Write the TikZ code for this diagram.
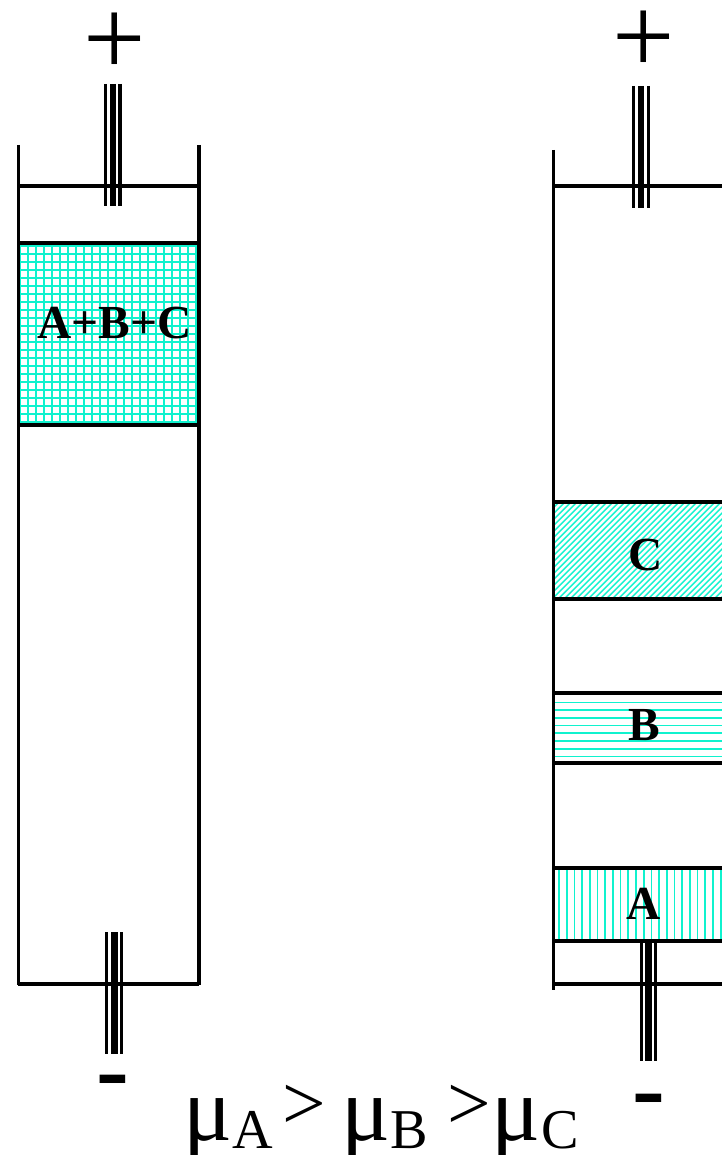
\documentclass[tikz,border=0pt]{standalone}
\usepackage{fontspec}
\setmainfont{Liberation Serif}
\usepackage{xcolor}
\definecolor{bandcol}{HTML}{10F2CE}
\tikzset{
  wall/.style={line width=1.85pt, line cap=butt},
  hatchline/.style={bandcol, line width=0.95pt},
  rodthin/.style={line width=1.9pt},
  rodthick/.style={line width=3.6pt},
  bandlabel/.style={font=\fontsize{27}{27}\selectfont\bfseries, inner sep=0pt, anchor=base},
  signlabel/.style={inner sep=0pt, anchor=base},
  mobility/.style={inner sep=0pt, anchor=base west}
}
\begin{document}
\begin{tikzpicture}[x=0.02cm, y=-0.02cm]
\useasboundingbox (0,0) rectangle (722,1155);
\begin{scope}
\clip (18,243) rectangle (199,425);
\draw[hatchline] foreach \x in {20,28,...,200} {(\x,243) -- (\x,425)};
\draw[hatchline] foreach \y in {246,254,...,425} {(18,\y) -- (199,\y)};
\end{scope}
\begin{scope}
\clip (553,502) rectangle (722,599);
\draw[hatchline, line width=0.8pt] foreach \x in {456,462,...,730} {(\x,599) -- ++(97,-97)};
\end{scope}
\begin{scope}
\clip (553,693) rectangle (722,763);
\draw[hatchline] foreach \y in {702.5,710.2,...,763} {(553,\y) -- (722,\y)};
\end{scope}
\begin{scope}
\clip (553,868) rectangle (722,941);
\draw[hatchline] foreach \x in {559,566.7,...,722} {(\x,868) -- (\x,941)};
\end{scope}
\draw[wall] (18.5,145) -- (18.5,985); \draw[wall] (199,145) -- (199,985);
\draw[wall] (18,186) -- (199,186); \draw[wall] (18,243) -- (199,243);
\draw[wall] (18,425) -- (199,425); \draw[wall] (18,984) -- (199,984);
\draw[wall] (553.5,150) -- (553.5,990); \draw[wall] (553,186) -- (722,186);
\draw[wall] (553,502) -- (722,502); \draw[wall] (553,599) -- (722,599);
\draw[wall] (553,693) -- (722,693); \draw[wall] (553,763) -- (722,763);
\draw[wall] (553,868) -- (722,868); \draw[wall] (553,941) -- (722,941);
\draw[wall] (553,984) -- (722,984);
\draw[rodthin] (105.5,84) -- (105.5,206); \draw[rodthick] (113,84) -- (113,206); \draw[rodthin] (120,84) -- (120,206);
\draw[rodthin] (106.5,932) -- (106.5,1054); \draw[rodthick] (114.5,932) -- (114.5,1054); \draw[rodthin] (121.5,932) -- (121.5,1054);
\draw[rodthin] (633.5,86) -- (633.5,208); \draw[rodthick] (641,86) -- (641,208); \draw[rodthin] (648.5,86) -- (648.5,208);
\draw[rodthin] (641.5,939) -- (641.5,1061); \draw[rodthick] (648.5,939) -- (648.5,1061); \draw[rodthin] (655.5,939) -- (655.5,1061);
\node[bandlabel] (ABC) at (114.5,338) {A+B+C};
\node[bandlabel] (C) at (646,570) {C};
\node[bandlabel] (B) at (644,740) {B};
\node[bandlabel] (A) at (644,919) {A};
\node[signlabel, font=\fontsize{63}{63}\selectfont] (plusL) at (115,76) {+};
\node[signlabel, font=\fontsize{63}{63}\selectfont] (plusR) at (644,74) {+};
\node[signlabel, font=\fontsize{56}{56}\selectfont\bfseries] (minusL) at (113,1102) {-};
\node[signlabel, font=\fontsize{56}{56}\selectfont\bfseries] (minusR) at (649,1121) {-};
\node[mobility, font=\fontsize{52}{52}\selectfont] (muA) at (183,1140) {μ};
\node[mobility, font=\fontsize{32}{32}\selectfont] (subA) at (232,1148) {A};
\node[mobility, font=\fontsize{44}{44}\selectfont] (gtA) at (282,1129) {>};
\node[mobility, font=\fontsize{52}{52}\selectfont] (muB) at (341,1140) {μ};
\node[mobility, font=\fontsize{32}{32}\selectfont] (subB) at (390,1148) {B};
\node[mobility, font=\fontsize{44}{44}\selectfont] (gtB) at (447,1129) {>};
\node[mobility, font=\fontsize{52}{52}\selectfont] (muC) at (491,1140) {μ};
\node[mobility, font=\fontsize{32}{32}\selectfont] (subC) at (541,1148) {C};
\end{tikzpicture}
\end{document}
